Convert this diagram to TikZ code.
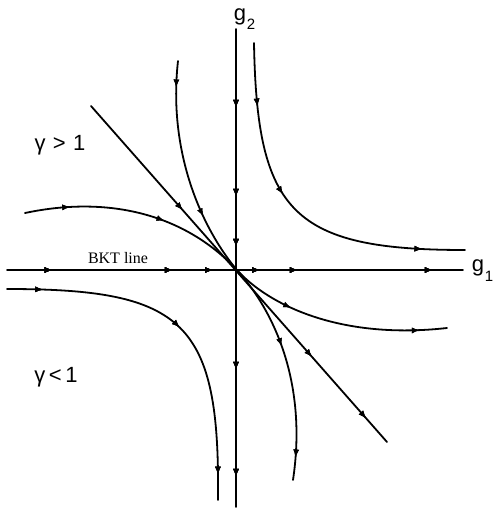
\documentclass[tikz,border=0pt]{standalone}
\usepackage{fontspec}
\setmainfont{Liberation Serif}
\newfontfamily\labfont{Liberation Sans}
\usetikzlibrary{decorations.markings,arrows.meta}
\tikzset{
  flow/.style={line width=1.8pt, line cap=round},
  arr/.style={postaction={decorate}, decoration={markings, mark=at position #1 with {\arrow{Latex[length=8pt,width=6pt]}}}},
  lab/.style={font=\labfont\fontsize{22}{26}\selectfont, inner sep=0pt},
  sub/.style={font=\labfont\fontsize{15}{18}\selectfont, inner sep=0pt},
}
\begin{document}
\begin{tikzpicture}[x=1pt,y=-1pt]
\useasboundingbox (0,0) rectangle (496,511);
% key points
\coordinate (O) at (236,269);
\coordinate (Vt) at (236,29);
\coordinate (Vb) at (236,507);
\coordinate (Hl) at (7,270);
\coordinate (Hr) at (463,270);
\coordinate (Dt) at (91,106);
\coordinate (Db) at (387,442);
\coordinate (A1) at (178,61);
\coordinate (A2) at (25,213);
\coordinate (B1) at (254,43);
\coordinate (B2) at (465,250);
\coordinate (C1) at (7,289);
\coordinate (C2) at (218,500);
\coordinate (E1) at (447,328);
\coordinate (E2) at (293,480);
% axes
\draw[flow, arr=0.165, arr=0.351, arr=0.456, arr=0.713, arr=0.937] (Vt) -- (Vb);
\draw[flow, arr=0.10, arr=0.364, arr=0.452, arr=0.555, arr=0.638, arr=0.934] (Hl) -- (Hr);
% separatrix
\draw[flow, arr=0.31, arr=0.747, arr=0.93] (Dt) -- (Db);
% upper-left flows
\draw[flow, arr=0.12, arr=0.72] (A1) .. controls (168,150) and (200,225) .. (O);
\draw[flow, arr=0.2, arr=0.62] (A2) .. controls (110,195) and (185,215) .. (O);
% upper-right flow
\draw[flow, arr=0.18, arr=0.44, arr=0.88] (B1) .. controls (257,212) and (292,250) .. (B2);
% lower-left flow
\draw[flow, arr=0.1, arr=0.5, arr=0.93] (C1) .. controls (185,289) and (220,322) .. (C2);
% lower-right flows
\draw[flow, arr=0.3, arr=0.88] (O) .. controls (268,305) and (340,340) .. (E1);
\draw[flow, arr=0.4, arr=0.9] (O) .. controls (272,308) and (308,380) .. (E2);
% labels
\node[lab] (g2) at (240,17) {g};
\node[sub] (g2s) at (251,24) {2};
\node[lab] (g1) at (478,268) {g};
\node[sub] (g1s) at (489,276) {1};
\node[lab] (gg) at (60,145) {γ\,\,>\,\,1};
\node[lab] (gl) at (56,377) {γ\,<\,1};
\node[font=\fontsize{16}{19}\selectfont, inner sep=0pt] (bkt) at (118,258) {BKT line};
\end{tikzpicture}
\end{document}
